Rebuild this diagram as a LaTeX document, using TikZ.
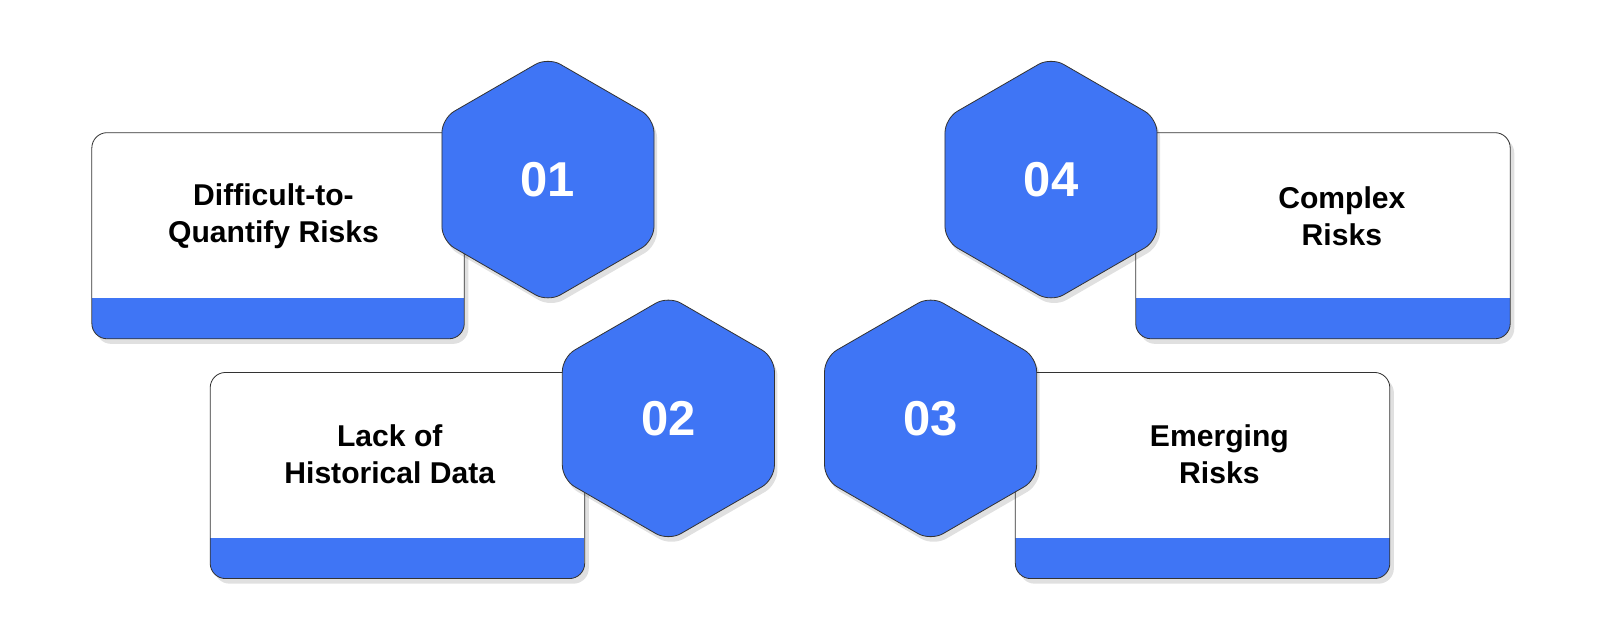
\documentclass[tikz,border=0pt]{standalone}
\usepackage{fontspec}
\setmainfont{Liberation Sans}
\definecolor{hexblue}{HTML}{3F75F5}
\definecolor{edge}{HTML}{333333}
\newcommand{\card}[4]{%
  \fill[black, opacity=0.12, rounded corners=15] (#1+4,#2+5) rectangle (#3+4,#4+5);%
  \begin{scope}%
    \clip[rounded corners=15] (#1,#2) rectangle (#3,#4);%
    \fill[white] (#1,#2) rectangle (#3,#4);%
    \fill[hexblue] (#1,#4-40) rectangle (#3,#4);%
  \end{scope}%
  \draw[edge, line width=0.8pt, rounded corners=15] (#1,#2) rectangle (#3,#4);%
}
\newcommand{\hexa}[3]{%
  \fill[black, opacity=0.12, rounded corners=14] (#1+3,#2+5) +(90:120) -- +(150:120) -- +(210:120) -- +(270:120) -- +(330:120) -- +(30:120) -- cycle;%
  \draw[edge, fill=hexblue, line width=0.8pt, rounded corners=14] (#1,#2) +(90:120) -- +(150:120) -- +(210:120) -- +(270:120) -- +(330:120) -- +(30:120) -- cycle;%
  \coordinate (#3) at (#1,#2);%
}
\begin{document}
\begin{tikzpicture}[x=1pt,y=-1pt,
  lbl/.style={font=\fontsize{29.5}{36}\selectfont\bfseries, align=center, text=black},
  num/.style={font=\fontsize{48}{52}\selectfont\bfseries, text=white}]
\card{90}{130}{455}{332}
\card{1113}{130}{1480}{332}
\card{206}{365}{573}{567}
\card{995}{365}{1362}{567}
\hexa{537}{176}{h1}
\hexa{1030}{176}{h4}
\hexa{655}{410}{h2}
\hexa{912}{410}{h3}
\node[num] (n1) at (h1) {01};
\node[num] (n4) at (h4) {04};
\node[num] (n2) at (h2) {02};
\node[num] (n3) at (h3) {03};
\node[lbl] (t1) at (268,212) {Difficult-to-\\Quantify Risks};
\node[lbl] (t4) at (1315,212) {Complex\\Risks};
\node[lbl] (t2) at (382,445) {Lack of\\Historical Data};
\node[lbl] (t3) at (1195,445) {Emerging\\Risks};
\pgfresetboundingbox
\useasboundingbox (0,0) rectangle (1568,622);
\end{tikzpicture}
\end{document}
